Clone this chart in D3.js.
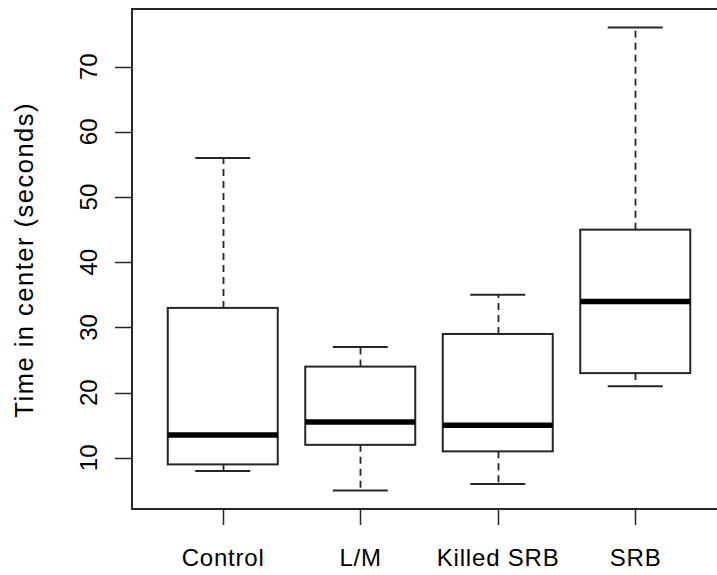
<!DOCTYPE html>
<html>
<head>
<meta charset="utf-8">
<script src="https://cdn.jsdelivr.net/npm/d3@7"></script>
<style>
  html, body { margin: 0; padding: 0; background: #fff; }
  svg { display: block; }
  text { font-family: "Liberation Sans", Arial, sans-serif; fill: #000; }
</style>
</head>
<body>
<svg id="chart" width="717" height="575"></svg>
<script>
// Data
const categories = ["Control", "L/M", "Killed SRB", "SRB"];
const whiskerLow = [8, 5, 6, 21];
const q1 = [9, 12, 11, 23];
const median = [13.5, 15.5, 15, 34];
const q3 = [33, 24, 29, 45];
const whiskerHigh = [56, 27, 35, 76];
const yTicks = [10, 20, 30, 40, 50, 60, 70];
const yTitle = "Time in center (seconds)";

const svg = d3.select("#chart");
const plotLeft = 132, plotRight = 726, plotTop = 9, plotBottom = 509;

const y = d3.scaleLinear().domain([2.16, 78.84]).range([plotBottom, plotTop]);
const x = d3.scaleLinear().domain([0.34, 4.66]).range([plotLeft, plotRight]);
const pos = categories.map((c, i) => i + 1);
const halfBox = 0.4, halfCap = 0.2;
const lineCol = "#262626";

// frame
svg.append("rect")
  .attr("x", plotLeft).attr("y", plotTop)
  .attr("width", plotRight - plotLeft).attr("height", plotBottom - plotTop)
  .attr("fill", "none").attr("stroke", lineCol).attr("stroke-width", 2);

// y axis ticks
const yAxis = svg.append("g");
yAxis.selectAll("line").data(yTicks).join("line")
  .attr("x1", plotLeft - 17).attr("x2", plotLeft)
  .attr("y1", d => Math.round(y(d)) + 0.5).attr("y2", d => Math.round(y(d)) + 0.5)
  .attr("stroke", lineCol).attr("stroke-width", 1.5);
yAxis.selectAll("text").data(yTicks).join("text")
  .attr("transform", d => `translate(97,${y(d)}) rotate(-90)`)
  .attr("text-anchor", "middle")
  .attr("font-size", 24)
  .text(d => d);

// x axis ticks
const xAxis = svg.append("g");
xAxis.selectAll("line").data(pos).join("line")
  .attr("x1", d => Math.round(x(d)) + 0.5).attr("x2", d => Math.round(x(d)) + 0.5)
  .attr("y1", plotBottom).attr("y2", plotBottom + 16)
  .attr("stroke", lineCol).attr("stroke-width", 1.5);
xAxis.selectAll("text").data(categories).join("text")
  .attr("x", (d, i) => x(pos[i]) + 0.4)
  .attr("y", 566)
  .attr("text-anchor", "middle")
  .attr("font-size", 24)
  .attr("letter-spacing", 0.8)
  .text(d => d);

// y title
svg.append("text")
  .attr("transform", `translate(33,${(plotTop + plotBottom) / 2 + 0.8}) rotate(-90)`)
  .attr("text-anchor", "middle")
  .attr("font-size", 25.5)
  .attr("letter-spacing", 1.5)
  .text(yTitle);

// boxes
const g = svg.append("g");
categories.forEach((c, i) => {
  const p = pos[i];
  const cx = Math.round(x(p)) + 0.5;
  // whiskers
  g.append("line")
    .attr("x1", cx).attr("x2", cx)
    .attr("y1", y(q3[i])).attr("y2", y(whiskerHigh[i]))
    .attr("stroke", lineCol).attr("stroke-width", 1.8)
    .attr("stroke-dasharray", "7,5");
  g.append("line")
    .attr("x1", cx).attr("x2", cx)
    .attr("y1", y(q1[i])).attr("y2", y(whiskerLow[i]))
    .attr("stroke", lineCol).attr("stroke-width", 1.8)
    .attr("stroke-dasharray", "7,5");
  // caps
  [whiskerLow[i], whiskerHigh[i]].forEach(v => {
    g.append("line")
      .attr("x1", x(p - halfCap)).attr("x2", x(p + halfCap))
      .attr("y1", y(v)).attr("y2", y(v))
      .attr("stroke", lineCol).attr("stroke-width", 2);
  });
  // box
  g.append("rect")
    .attr("x", x(p - halfBox)).attr("y", y(q3[i]))
    .attr("width", x(p + halfBox) - x(p - halfBox))
    .attr("height", y(q1[i]) - y(q3[i]))
    .attr("fill", "#fff").attr("stroke", lineCol).attr("stroke-width", 2);
  // median
  g.append("line")
    .attr("x1", x(p - halfBox)).attr("x2", x(p + halfBox))
    .attr("y1", y(median[i])).attr("y2", y(median[i]))
    .attr("stroke", "#000").attr("stroke-width", 5.5);
});
</script>
</body>
</html>
